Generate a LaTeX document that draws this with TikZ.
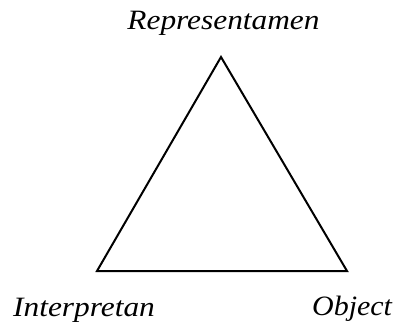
\documentclass[tikz,border=0pt]{standalone}
\usepackage{fontspec}
\setmainfont{Liberation Serif}
\usepackage{graphicx}
\begin{document}
\begin{tikzpicture}[x=1pt,y=1pt,
  lbl/.style={inner sep=0pt,font=\fontsize{28}{30}\selectfont\itshape},
  edge/.style={line width=2pt,line join=miter}]
\useasboundingbox (0,0) rectangle (396,324);
\coordinate (R) at (221,267);
\coordinate (I) at (97,53);
\coordinate (O) at (347,53);
\draw[edge] (R) -- (I) -- (O) -- cycle;
\node[lbl,anchor=base] (rt) at (223.5,294) {\scalebox{1.12}[1]{Representamen}};
\node[lbl,anchor=base west] (it) at (13,8) {\scalebox{1.12}[1]{Interpretan}};
\node[lbl,anchor=base west] (ot) at (312,9) {\scalebox{1.07}[1]{Object}};
\end{tikzpicture}
\end{document}
